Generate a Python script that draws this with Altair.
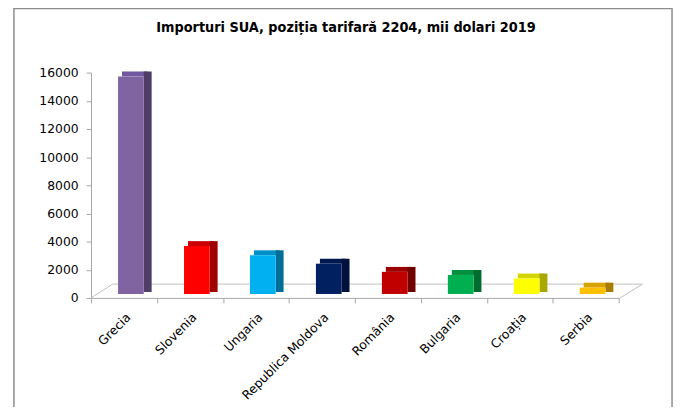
import altair as alt
import pandas as pd

countries = ["Grecia", "Slovenia", "Ungaria", "Republica Moldova", "România", "Bulgaria", "Croația", "Serbia"]
values = [15450, 3400, 2750, 2150, 1570, 1350, 1100, 450]
y_ticks = [0, 2000, 4000, 6000, 8000, 10000, 12000, 14000, 16000]
title_text = "Importuri SUA, poziția tarifară 2204, mii dolari 2019"

front_colors = ["#8064A2", "#FF0000", "#00B0F0", "#002060", "#C00000", "#00B050", "#FFFF00", "#FFC000"]
top_colors = ["#7059A0", "#C80000", "#0090C8", "#001A50", "#9A0000", "#009040", "#D4D400", "#D9A200"]
side_colors = ["#4F3D66", "#A00000", "#006E98", "#00123C", "#700000", "#006B2E", "#A8A800", "#A87C00"]

df = pd.DataFrame({"country": countries, "value": values})

W, H = 534, 228
FONT = "DejaVu Sans"

xenc = alt.X("country:N", sort=countries, title=None,
             scale=alt.Scale(paddingInner=0, paddingOuter=0),
             axis=alt.Axis(labelAngle=-45, labelAlign="right", labelBaseline="top",
                           labelFontSize=12.5, labelFont=FONT, labelColor="#000000",
                           labelPadding=8, tickBand="extent", tickSize=5,
                           tickColor="#A6A6A6", domainColor="#A6A6A6"))
yscale = alt.Scale(domain=[0, 16000], nice=False)
yenc = alt.Y("value:Q", scale=yscale, title=None,
             axis=alt.Axis(values=y_ticks, format="d", grid=False, labelFontSize=12.5, labelFont=FONT,
                           labelColor="#000000", tickSize=5, tickColor="#A6A6A6",
                           domainColor="#A6A6A6", labelPadding=8))

base = alt.Chart(df)

top_face = base.mark_bar(size=26, xOffset=11, yOffset=-9, y2Offset=-4).encode(
    x=xenc, y=yenc, y2="value:Q",
    color=alt.Color("country:N", scale=alt.Scale(domain=countries, range=top_colors), legend=None))
side_face = base.mark_bar(size=8, xOffset=24, yOffset=-9, y2Offset=-6).encode(
    x=xenc, y=yenc, y2=alt.datum(0),
    color=alt.Color("country:N", scale=alt.Scale(domain=countries, range=side_colors), legend=None))
front = base.mark_bar(size=26, xOffset=7, yOffset=-4, y2Offset=-4).encode(
    x=xenc, y=yenc, y2=alt.datum(0),
    color=alt.Color("country:N", scale=alt.Scale(domain=countries, range=front_colors), legend=None))

one = pd.DataFrame({"a": [0]})
floor_col = "#BFBFBF"
floor_back = alt.Chart(one).mark_rule(color=floor_col).encode(
    x=alt.value(22), x2=alt.value(558), y=alt.value(214))
floor_left = alt.Chart(one).mark_rule(color=floor_col).encode(
    x=alt.value(0), x2=alt.value(22), y=alt.value(228), y2=alt.value(214))
floor_right = alt.Chart(one).mark_rule(color=floor_col).encode(
    x=alt.value(534), x2=alt.value(558), y=alt.value(229), y2=alt.value(214))
border = alt.Chart(one).mark_rect(fill=None, stroke="#8C8C8C", strokeWidth=1.5).encode(
    x=alt.value(-78), x2=alt.value(588), y=alt.value(-65), y2=alt.value(400))
title = alt.Chart(one).mark_text(text=title_text, font="DejaVu Sans Condensed, Liberation Sans",
                                 fontSize=14.5, fontWeight="bold", color="#000000",
                                 align="center", baseline="middle").encode(
    x=alt.value(258), y=alt.value(-45))

chart = alt.layer(border, title, floor_back, floor_left, floor_right, top_face, side_face, front).properties(
    width=W, height=H,
    autosize=alt.AutoSizeParams(type="none"),
    padding={"left": 84, "top": 63, "right": 57, "bottom": 108},
).resolve_scale(color="independent").configure_view(stroke=None)

chart.save("out.html", embed_options={"renderer": "svg", "actions": False})
